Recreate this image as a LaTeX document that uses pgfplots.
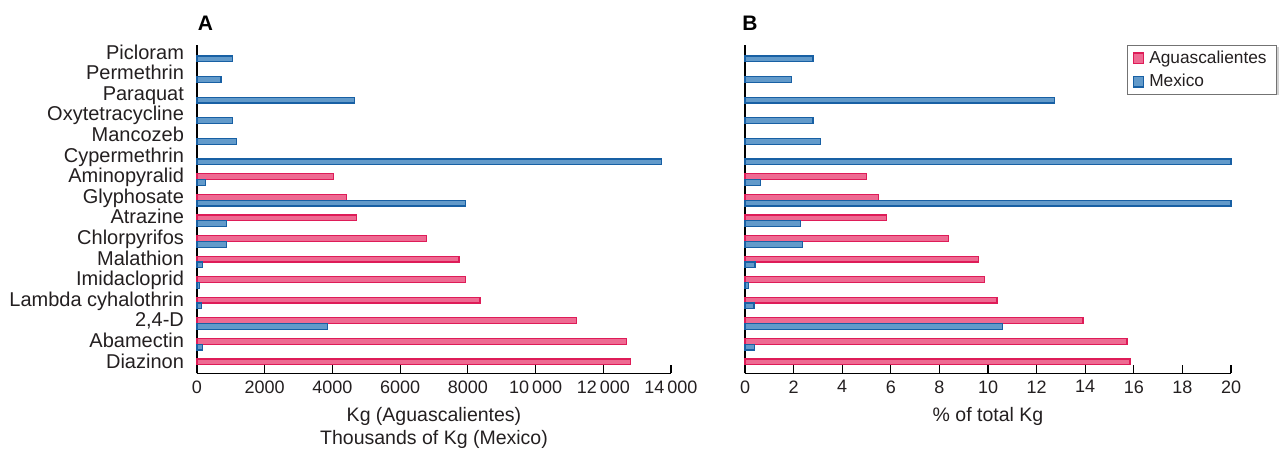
\documentclass[border=0pt]{standalone}
\usepackage{fontspec}
\setmainfont{Liberation Sans}
\usepackage{pgfplots}
\pgfplotsset{compat=1.18}
\definecolor{pinkfill}{RGB}{238,106,146}
\definecolor{pinkedge}{RGB}{222,28,88}
\definecolor{bluefill}{RGB}{98,154,202}
\definecolor{blueedge}{RGB}{24,96,164}
\definecolor{txt}{RGB}{35,31,32}
\pgfplotsset{
  mybase/.style={
    scale only axis, height=164pt,
    xbar, bar width=2.9pt,
    axis lines*=left,
    axis line style={line width=0.6pt, black},
    ymin=-0.56, ymax=15.37,
    xmin=0,
    clip=false,
    tick align=inside,
    major tick length=4pt,
    x tick style={line width=0.6pt, black},
    y tick style={draw=none},
    scaled x ticks=false,
    /pgf/number format/assume math mode=true,
    /pgf/number format/1000 sep={\,},
    /pgf/number format/min exponent for 1000 sep=4,
    xticklabel style={font=\fontsize{9}{10}\selectfont, text=txt},
    xlabel style={font=\fontsize{9.75}{11.5}\selectfont, text=txt, align=center},
    legend image code/.code={\draw[#1] (0pt,-2.6pt) rectangle (5.2pt,2.6pt);},
  },
  aguas/.style={draw=pinkedge, fill=pinkfill, line width=0.6pt},
  mex/.style={draw=blueedge, fill=bluefill, line width=0.6pt},
}
\begin{document}
\begin{tikzpicture}
\path[use as bounding box] (0,0) rectangle (640pt,226.5pt);
% Panel A
\begin{axis}[mybase,
  at={(98.5pt,39.75pt)}, anchor=south west, width=237pt,
  xmax=14000, xtick={0,2000,...,14000},
  ytick={0,...,15},
  yticklabels={Diazinon,Abamectin,{2,4-D},Lambda cyhalothrin,Imidacloprid,Malathion,Chlorpyrifos,Atrazine,Glyphosate,Aminopyralid,Cypermethrin,Mancozeb,Oxytetracycline,Paraquat,Permethrin,Picloram},
  yticklabel style={font=\fontsize{10}{11}\selectfont, text=txt, xshift=-3pt,
    text height=1.45ex, text depth=0.3ex},
  xlabel={Kg (Aguascalientes)\\Thousands of Kg (Mexico)},
]
\addplot[aguas, bar shift=0pt] coordinates {
 (12810,0) (12690,1) (11220,2) (8360,3) (7940,4) (7740,5) (6780,6) (4700,7) (4420,8) (4030,9)
};
\addplot[mex, bar shift=-2.9pt] coordinates {
 (157,1) (3852,2) (130,3) (78,4) (157,5) (870,6) (870,7) (7929,8) (249,9)
 (13730,10) (1160,11) (1041,12) (4643,13) (711,14) (1040,15)
};
\node[anchor=base west, inner sep=0pt, font=\bfseries\fontsize{10.5}{11}\selectfont, text=black] at (rel axis cs:0,1) [xshift=0.3pt, yshift=7.5pt] {A};
\end{axis}
% Panel B
\begin{axis}[mybase,
  at={(372.5pt,39.75pt)}, anchor=south west, width=243pt,
  xmax=20, xtick={0,2,...,20},
  ytick=\empty,
  xlabel={\% of total Kg},
  legend cell align=left,
  legend style={at={(1.0947,1)}, anchor=north east,
    font=\fontsize{8.65}{10}\selectfont, text=txt,
    draw=black!55, line width=0.4pt, fill=white,
    inner xsep=2.5pt, inner ysep=0.3pt, row sep=0pt,
    nodes={inner xsep=2.5pt}},
]
\fill[black!18] ([xshift=1pt,yshift=-1pt]rel axis cs:0.786,0.854) rectangle ([xshift=1pt,yshift=-1pt]rel axis cs:1.0947,1);
\addlegendimage{aguas}
\addlegendentry{Aguascalientes}
\addlegendimage{mex}
\addlegendentry{Mexico}
\addplot[aguas, bar shift=0pt, forget plot] coordinates {
 (15.84,0) (15.72,1) (13.91,2) (10.37,3) (9.86,4) (9.61,5) (8.39,6) (5.82,7) (5.48,8) (5.01,9)
};
\addplot[mex, bar shift=-2.9pt, forget plot] coordinates {
 (0.40,1) (10.59,2) (0.37,3) (0.15,4) (0.41,5) (2.35,6) (2.30,7) (20,8) (0.65,9)
 (20,10) (3.12,11) (2.80,12) (12.73,13) (1.92,14) (2.80,15)
};
\node[anchor=base west, inner sep=0pt, font=\bfseries\fontsize{10.5}{11}\selectfont, text=black] at (rel axis cs:0,1) [xshift=-1.5pt, yshift=7.5pt] {B};
\end{axis}
\end{tikzpicture}
\end{document}
